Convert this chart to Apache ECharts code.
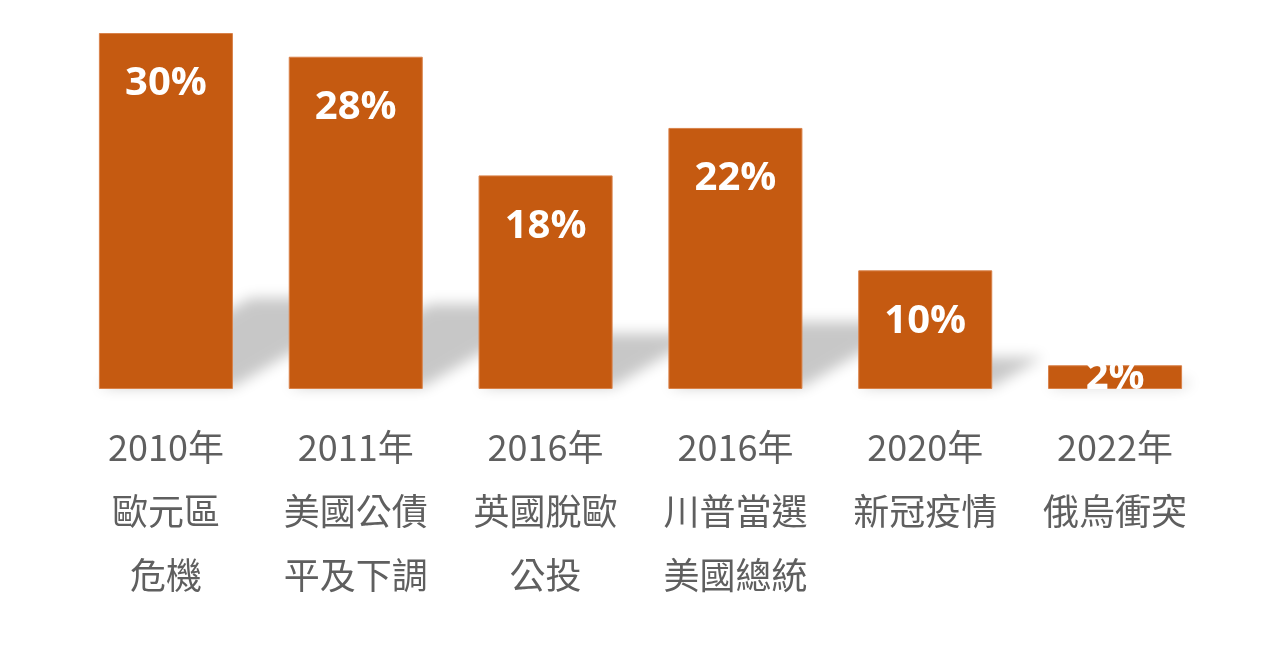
<!DOCTYPE html>
<html>
<head>
<meta charset="utf-8">
<script src="https://cdn.jsdelivr.net/npm/echarts@6/dist/echarts.min.js"></script>
<style>
  html, body { margin: 0; padding: 0; background: #fff; }
  #chart { width: 1280px; height: 645px; }
</style>
</head>
<body>
<div id="chart"></div>
<script>
const years = ['2010年', '2011年', '2016年', '2016年', '2020年', '2022年'];
const events = ['歐元區\n危機', '美國公債\n平及下調', '英國脫歐\n公投', '川普當選\n美國總統', '新冠疫情', '俄烏衝突'];
const values = [30, 28, 18, 22, 10, 2];

const categories = years.map((y, i) => y + '\n' + events[i]);
const BAR_RATIO = 0.706;
const SHIFT = 3000; // shape drawn off screen, only its blurred shadow shows

const chart = echarts.init(document.getElementById('chart'));

// skewed soft shadow behind each bar, like the Excel perspective shadow
function renderShadow(params, api) {
  const base = api.coord([api.value(0), 0]);
  const top = api.coord([api.value(0), api.value(1)]);
  const bw = api.size([1, 0])[0] * BAR_RATIO;
  const hs = (base[1] - top[1]) * 0.25;
  const dx = hs * 1.7;
  const x0 = base[0] - bw / 2 - SHIFT, x1 = base[0] + bw / 2 - SHIFT, y0 = base[1] - 2;
  return {
    type: 'polygon',
    shape: { points: [[x0, y0], [x1, y0], [x1 + dx, y0 - hs], [x0 + dx, y0 - hs]] },
    style: {
      fill: '#000',
      shadowBlur: 14,
      shadowOffsetX: SHIFT,
      shadowColor: 'rgba(0,0,0,0.22)'
    }
  };
}

chart.setOption({
  animation: false,
  grid: { left: 71, right: 70, top: 33, bottom: 256 },
  xAxis: {
    type: 'category',
    data: categories,
    axisLine: { show: false },
    axisTick: { show: false },
    axisLabel: {
      interval: 0,
      margin: 26,
      fontSize: 36,
      lineHeight: 64,
      color: '#5f5f5f',
      fontFamily: 'Noto Sans CJK TC'
    }
  },
  yAxis: { type: 'value', min: 0, max: 30, show: false, splitLine: { show: false } },
  series: [
    {
      type: 'custom',
      z: 1,
      renderItem: renderShadow,
      encode: { x: 0, y: 1 },
      data: values.map((v, i) => [i, v]),
      silent: true
    },
    {
      type: 'bar',
      z: 2,
      barWidth: (BAR_RATIO * 100) + '%',
      data: values.map(v => v < 5 ? { value: v, label: { position: 'inside' } } : v),
      itemStyle: { color: '#C55A11', borderColor: '#D9824A', borderWidth: 1 },
      label: {
        show: true,
        position: ['50%', 51],
        align: 'center',
        verticalAlign: 'middle',
        formatter: '{c}%',
        color: '#fff',
        fontSize: 40,
        fontWeight: 'bold',
        fontFamily: 'Open Sans'
      }
    }
  ]
});
</script>
</body>
</html>
